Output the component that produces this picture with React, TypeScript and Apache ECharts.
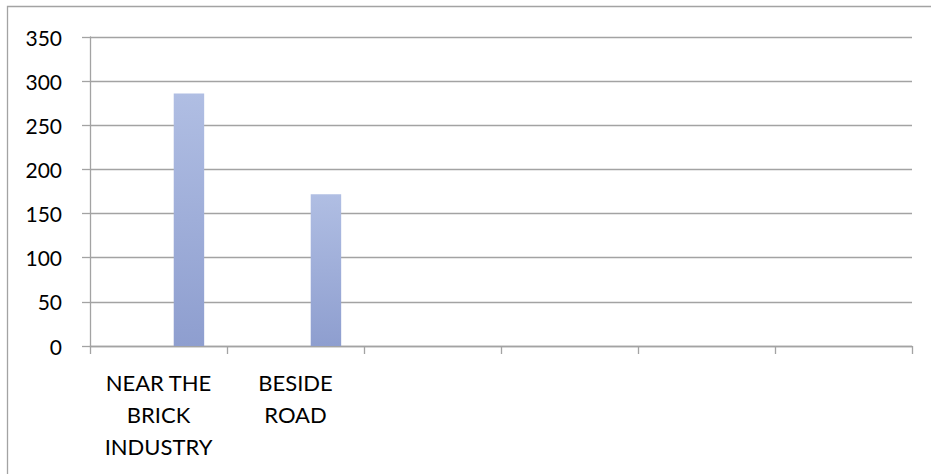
import React, { useEffect, useRef } from "react";
import * as echarts from "echarts";

const categories = ["NEAR THE\nBRICK\nINDUSTRY", "BESIDE\nROAD", "", "", "", ""];
const series1Values: (number | null)[] = [null, null, null, null, null, null];
const series2Values: (number | null)[] = [null, null, null, null, null, null];
const series3Values: (number | null)[] = [286, 172, null, null, null, null];
const yTicks = [0, 50, 100, 150, 200, 250, 300, 350];

export default function App() {
  const ref = useRef<HTMLDivElement>(null);
  useEffect(() => {
    if (!ref.current) return;
    const chart = echarts.init(ref.current, undefined, { renderer: "svg" });
    const gray = "#A3A3A3";
    const font = "Lato";
    const barColor = new echarts.graphic.LinearGradient(0, 0, 0, 1, [
      { offset: 0, color: "#B0BEE3" },
      { offset: 1, color: "#8E9ECF" },
    ]);
    const mk = (name: string, data: (number | null)[]) => ({
      name,
      type: "bar" as const,
      data,
      barGap: "0%",
      barCategoryGap: "33.33%",
      itemStyle: { color: barColor },
    });
    chart.setOption({
      animation: false,
      backgroundColor: "#ffffff",
      graphic: [
        {
          type: "rect",
          shape: { x: 7.5, y: 6.5, width: 1000, height: 1000 },
          style: { fill: "none", stroke: gray, lineWidth: 1.3 },
          silent: true,
        },
      ],
      grid: { left: 90, right: 19, top: 37, bottom: 128, containLabel: false },
      xAxis: {
        type: "category",
        data: categories,
        boundaryGap: true,
        axisLine: { show: true, lineStyle: { color: gray, width: 1.3 } },
        axisTick: { show: true, alignWithLabel: false, length: 8, lineStyle: { color: gray, width: 1.3 } },
        axisLabel: {
          interval: 0,
          margin: 20,
          color: "#000",
          fontFamily: font,
          fontSize: 22,
          lineHeight: 32,
          align: "center",
          verticalAlign: "top",
        },
      },
      yAxis: {
        type: "value",
        min: yTicks[0],
        max: yTicks[yTicks.length - 1],
        interval: 50,
        axisLine: { show: true, lineStyle: { color: gray, width: 1.3 } },
        axisTick: { show: true, length: 8, lineStyle: { color: gray, width: 1.3 } },
        splitLine: { show: true, lineStyle: { color: gray, width: 1.3 } },
        axisLabel: {
          margin: 28,
          color: "#000",
          fontFamily: font,
          fontSize: 21,
        },
      },
      series: [mk("S1", series1Values), mk("S2", series2Values), mk("S3", series3Values)],
    });
    return () => chart.dispose();
  }, []);
  return (
    <div
      ref={ref}
      style={{ position: "fixed", left: 0, top: 0, width: 931, height: 474 }}
    />
  );
}
